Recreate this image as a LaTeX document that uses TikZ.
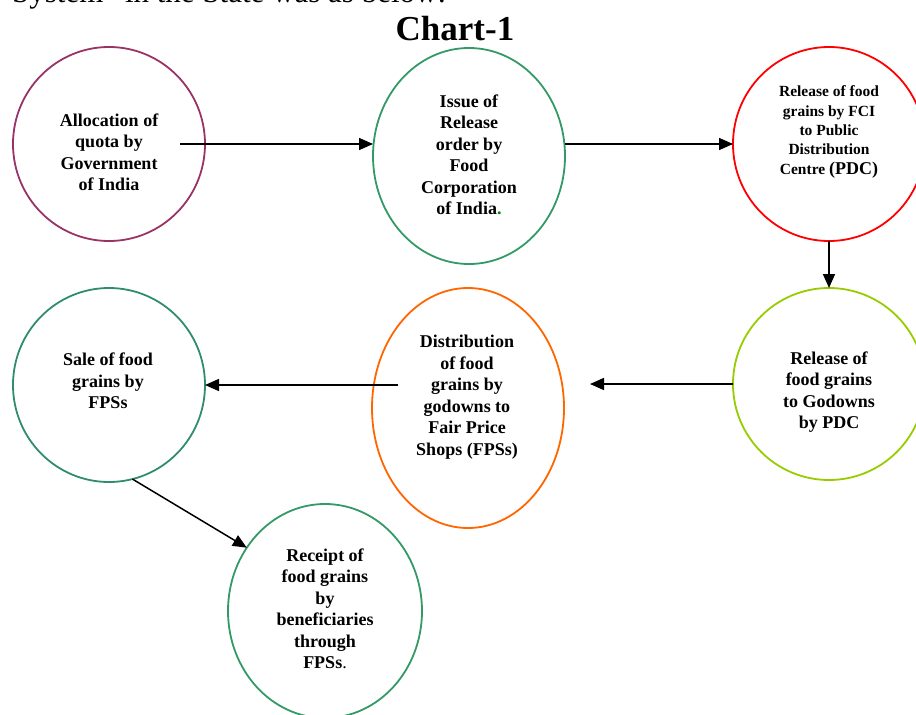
\documentclass[tikz,border=0pt]{standalone}
\usepackage{fontspec}
\setmainfont{Liberation Serif}
\usetikzlibrary{arrows.meta,shapes.geometric}
\definecolor{cpurple}{HTML}{993366}
\definecolor{cgreen}{HTML}{339966}
\definecolor{cteal}{HTML}{2F8C6E}
\definecolor{cred}{HTML}{FF0000}
\definecolor{clime}{HTML}{99CC00}
\definecolor{corange}{HTML}{FF6600}
\definecolor{cdot}{HTML}{008000}
\begin{document}
\begin{tikzpicture}[x=1pt,y=-1pt,
  ell/.style={ellipse,draw,line width=1.8pt,inner sep=0pt,outer sep=0pt,minimum width=192pt},
  txt/.style={align=center,inner sep=0pt,font=\bfseries\fontsize{18}{21.5}\selectfont},
  smalltxt/.style={align=center,inner sep=0pt,font=\bfseries\fontsize{15.5}{19.4}\selectfont},
  arr/.style={line width=1.5pt,-{Triangle[length=14pt,width=12pt]}}]
\useasboundingbox (0,0) rectangle (916,715);
\clip (0,0) rectangle (916,715);
% header texts
\node[font=\fontsize{31}{36}\selectfont,anchor=base west,inner sep=0pt] (intro) at (12,2) {System” in the State was as below:};
\node[font=\bfseries\fontsize{35}{40}\selectfont,anchor=base,inner sep=0pt] (title) at (455,40) {Chart-1};
% ellipses
\node[ell,draw=cpurple,minimum height=194pt] (e1) at (109,144) {};
\node[ell,draw=cgreen,minimum height=216pt] (e2) at (469,156) {};
\node[ell,draw=cred,minimum height=194pt] (e3) at (829,144) {};
\node[ell,draw=clime,minimum height=192pt] (e4) at (829,384) {};
\node[ell,draw=corange,minimum height=240pt] (e5) at (468,408) {};
\node[ell,draw=cteal,minimum height=194pt] (e6) at (109,385) {};
\node[ell,draw=cgreen,minimum width=194pt,minimum height=214pt] (e7) at (325,611) {};
% texts
\node[txt] (t1) at (109,152) {Allocation of\\quota by\\Government\\of India};
\node[txt] (t2) at (469,155) {Issue of\\Release\\order by\\Food\\Corporation\\of India{\color{cdot}.}};
\node[smalltxt] (t3) at (829,132) {Release of food\\grains by FCI\\to Public\\Distribution\\Centre {\fontsize{18}{19.4}\selectfont(PDC)}};
\node[txt] (t4) at (829,392) {Release of\\food grains\\to Godowns\\by PDC};
\node[txt] (t5) at (467,397) {Distribution\\of food\\grains by\\godowns to\\Fair Price\\Shops (FPSs)};
\node[txt] (t6) at (108,381) {Sale of food\\grains by\\FPSs};
\node[txt] (t7) at (325,609) {Receipt of\\food grains\\by\\beneficiaries\\through\\FPSs{\mdseries.}};
% connectors
\draw[arr,shorten <=-25pt] (e1.east) -- (e1.east -| e2.west);
\draw[arr] (e2.east |- e3.west) -- (e3.west);
\draw[arr] (e3.south) -- (e4.north);
\draw[arr,shorten >=26pt] (e4.west) -- (e4.west -| e5.east);
\draw[arr,shorten <=-26pt] (e6.east -| e5.west) -- (e6.east);
\draw[arr] (e6.-76) -- (e7.141);
\end{tikzpicture}
\end{document}
